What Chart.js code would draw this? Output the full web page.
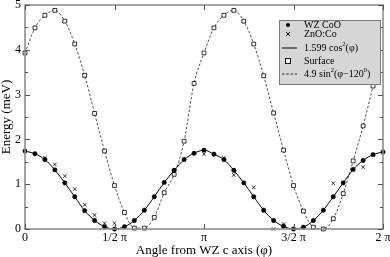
<!DOCTYPE html>
<html><head><meta charset="utf-8">
<script src="https://cdn.jsdelivr.net/npm/chart.js"></script>
<style>html,body{margin:0;padding:0;background:#fff;overflow:hidden}#wrap{width:390px;height:257px;position:relative}</style>
</head><body><div id="wrap"><canvas id="c"></canvas></div>
<script>
// ---- data (angles in degrees, energies in meV) ----
const wzAngle = [0,10,20,30,40,50,60,70,80,90,100,110,120,130,140,150,160,170,180,190,200,210,220,230,240,250,260,270,280,290,300,310,320,330,340,350,360];
const wzCoO   = [1.74,1.68,1.55,1.32,1.03,0.72,0.41,0.19,0.05,0.00,0.05,0.19,0.42,0.72,1.04,1.31,1.55,1.69,1.76,1.67,1.55,1.31,1.03,0.72,0.42,0.19,0.06,0.00,0.04,0.19,0.42,0.72,1.03,1.33,1.53,1.66,1.72];
const znoAngle = [20,30,40,50,60,70,80,90,180,200,210,230,250,260,310,340];
const znoCo    = [1.59,1.44,1.18,0.89,0.54,0.31,0.13,0.13,1.67,1.59,1.21,0.93,0.00,0.11,1.02,1.38];
const surfAngle = [0,10,20,30,40,50,60,70,80,90,100,110,120,130,140,150,160,170,180,190,200,210,220,230,240,250,260,270,280,290,300,310,320,330,340,350];
const surface   = [3.93,4.49,4.77,4.88,4.64,4.13,3.43,2.58,1.74,0.97,0.37,0.02,0.02,0.26,0.81,1.22,1.96,3.25,3.93,4.49,4.77,4.88,4.64,4.13,3.42,2.59,1.76,0.97,0.40,0.04,0.00,0.23,0.79,1.52,2.30,3.19];
const xTickValues = [0,90,180,270,360];
const xTickLabels = ['0','1/2 \u03c0','\u03c0','3/2 \u03c0','2 \u03c0'];
const yMinorStep = 0.5;
const legendLabels = ['WZ CoO','ZnO:Co','1.599 cos^2(\u03c6)','Surface','4.9 sin^2(\u03c6\u2212120^0)'];

const SERIF = '"Liberation Serif","Times New Roman",serif';
const pts = (xs, ys) => xs.map((x, i) => ({x, y: ys[i]}));

const frameTicks = {
  id: 'frameTicks',
  afterDraw(chart) {
    const {ctx, chartArea: a, scales: {x, y}} = chart;
    ctx.save();
    ctx.strokeStyle = '#8e8e8e';
    ctx.lineWidth = 1.6;
    ctx.strokeRect(a.left, a.top, a.right - a.left, a.bottom - a.top);
    ctx.lineWidth = 1;
    ctx.strokeStyle = '#555';
    ctx.beginPath();
    xTickValues.forEach(v => {
      const px = Math.round(x.getPixelForValue(v)) + 0.5;
      ctx.moveTo(px, a.bottom); ctx.lineTo(px, a.bottom - 5);
      ctx.moveTo(px, a.top); ctx.lineTo(px, a.top + 5);
    });
    for (let v = y.min; v <= y.max + 1e-9; v += yMinorStep) {
      const py = Math.round(y.getPixelForValue(v)) + 0.5;
      const len = Math.abs(v - Math.round(v)) < 1e-9 ? 5 : 3;
      ctx.moveTo(a.left, py); ctx.lineTo(a.left + len, py);
      ctx.moveTo(a.right, py); ctx.lineTo(a.right - len, py);
    }
    ctx.stroke();
    ctx.restore();
  }
};

function drawRich(ctx, text, x, y, size) {
  const parts = text.split(/(\^.)/);
  parts.forEach(p => {
    if (!p) return;
    if (p[0] === '^') {
      ctx.font = (size * 0.65) + 'px ' + SERIF;
      ctx.fillText(p[1], x, y - size * 0.38);
      x += ctx.measureText(p[1]).width;
    } else {
      ctx.font = size + 'px ' + SERIF;
      ctx.fillText(p, x, y);
      x += ctx.measureText(p).width;
    }
  });
}

const boxLegend = {
  id: 'boxLegend',
  afterDraw(chart) {
    const {ctx} = chart;
    const bx = 279, by = 20, bw = 101, bh = 64;
    ctx.save();
    ctx.fillStyle = '#d6d6d6';
    ctx.fillRect(bx, by, bw, bh);
    ctx.strokeStyle = '#7a7a7a';
    ctx.lineWidth = 1;
    ctx.strokeRect(bx + 0.5, by + 0.5, bw, bh);
    const rows = [25, 34, 48, 61, 74];
    const mx = 288;
    const tx = 304;
    ctx.fillStyle = '#000';
    ctx.strokeStyle = '#000';
    ctx.textBaseline = 'middle';
    legendLabels.forEach((lab, i) => {
      const ry = rows[i];
      ctx.beginPath();
      if (i === 0) { ctx.arc(mx, ry, 2, 0, Math.PI * 2); ctx.fill(); }
      else if (i === 1) { ctx.lineWidth = 0.9; ctx.moveTo(mx-2, ry-2); ctx.lineTo(mx+2, ry+2); ctx.moveTo(mx+2, ry-2); ctx.lineTo(mx-2, ry+2); ctx.stroke(); }
      else if (i === 2) { ctx.lineWidth = 1; ctx.moveTo(282, ry); ctx.lineTo(297, ry); ctx.stroke(); }
      else if (i === 3) { ctx.lineWidth = 0.9; ctx.fillStyle = '#fff'; ctx.fillRect(mx-2.5, ry-2.5, 5, 5); ctx.strokeRect(mx-2.5, ry-2.5, 5, 5); ctx.fillStyle = '#000'; }
      else { ctx.lineWidth = 0.8; ctx.setLineDash([2.5, 1.8]); ctx.moveTo(282, ry); ctx.lineTo(297, ry); ctx.stroke(); ctx.setLineDash([]); }
      drawRich(ctx, lab, tx, ry, 10);
    });
    ctx.restore();
  }
};

new Chart(document.getElementById('c'), {
  type: 'scatter',
  data: {
    datasets: [
      { label: legendLabels[0], data: pts(wzAngle, wzCoO), showLine: false, pointStyle: 'circle', pointRadius: 2.2, backgroundColor: '#000', borderColor: '#000', borderWidth: 0.5, clip: false },
      { label: legendLabels[1], data: pts(znoAngle, znoCo), showLine: false, pointStyle: 'crossRot', pointRadius: 2.5, borderColor: '#000', borderWidth: 0.8, clip: false },
      { label: legendLabels[3], data: pts(surfAngle, surface), showLine: false, pointStyle: 'rect', pointRadius: 2.7, backgroundColor: '#fff', borderColor: '#000', borderWidth: 0.8, clip: false },
      { label: legendLabels[2], data: pts(wzAngle, wzCoO), showLine: true, pointRadius: 0, borderColor: '#000', borderWidth: 1, cubicInterpolationMode: 'monotone', clip: false },
      { label: legendLabels[4], data: pts(surfAngle, surface), showLine: true, pointRadius: 0, borderColor: '#222', borderWidth: 0.8, borderDash: [2.5, 1.8], cubicInterpolationMode: 'monotone', clip: false }
    ]
  },
  options: {
    responsive: true, maintainAspectRatio: false, animation: false,
    layout: { padding: { left: 0, right: 7, top: 5, bottom: 0 } },
    plugins: { legend: { display: false }, tooltip: { enabled: false } },
    scales: {
      x: {
        type: 'linear', min: 0, max: 360,
        afterBuildTicks: s => { s.ticks = xTickValues.map(v => ({value: v})); },
        afterFit: s => { s.height = 28; s.paddingLeft = 0; s.paddingRight = 0; },
        ticks: { callback: v => xTickLabels[xTickValues.indexOf(v)], color: '#000', font: { family: SERIF, size: 12 }, padding: 2, maxRotation: 0, autoSkip: false },
        grid: { display: false, drawTicks: false }, border: { display: false },
        title: { display: true, text: 'Angle from WZ c axis (\u03c6)', color: '#000', font: { family: SERIF, size: 13, lineHeight: 1 }, padding: 0 }
      },
      y: {
        min: 0, max: 5,
        ticks: { stepSize: 1, color: '#000', font: { family: SERIF, size: 12 }, padding: 4 },
        afterFit: s => { s.width = 25; s.paddingTop = 0; s.paddingBottom = 0; },
        grid: { display: false, drawTicks: false }, border: { display: false },
        title: { display: true, text: 'Energy (meV)', color: '#000', font: { family: SERIF, size: 13, lineHeight: 1 }, padding: 0 }
      }
    }
  },
  plugins: [frameTicks, boxLegend]
});
</script></body></html>
